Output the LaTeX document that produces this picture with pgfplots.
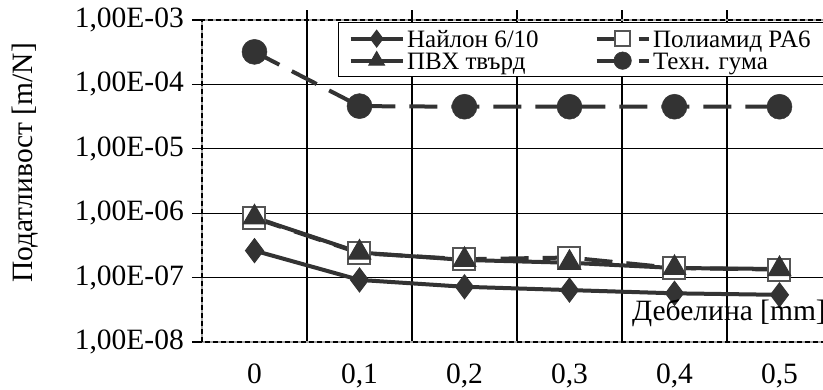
\documentclass[border=0pt]{standalone}
\usepackage{fontspec}
\setmainfont{Liberation Serif}
\usepackage{pgfplots}
\pgfplotsset{compat=1.18}
\definecolor{ser}{HTML}{333333}
\definecolor{sqe}{HTML}{555555}
\begin{document}
\begin{tikzpicture}[x=1pt,y=1pt]
\useasboundingbox (0,0) rectangle (823,390);
\clip (0,0) rectangle (823,390);
\begin{axis}[
  at={(202pt,48pt)}, anchor=south west,
  scale only axis, width=630pt, height=322pt,
  xmin=-0.5, xmax=5.5,
  ymode=log, ymin=1e-8, ymax=1e-3,
  xtick={0.5,1.5,2.5,3.5,4.5,5.5},
  xticklabels={0,{0,1},{0,2},{0,3},{0,4},{0,5}},
  xtick pos=right, xticklabel pos=left,
  ytick={1e-7,1e-6,1e-5,1e-4},
  yticklabels={{1,00E-07},{1,00E-06},{1,00E-05},{1,00E-04}},
  extra y ticks={1e-8,1e-3},
  extra y tick labels={{1,00E-08},{1,00E-03}},
  extra y tick style={grid=none},
  ytick pos=left,
  yminorticks=false,
  tick align=outside,
  major tick length=10pt,
  tick style={black, line width=1.3pt},
  xmajorgrids, ymajorgrids,
  major grid style={black, line width=1.3pt},
  axis line style={draw=black!35, line width=1.5pt, postaction={draw=black, dash pattern=on 5pt off 3pt}},
  tick label style={font=\fontsize{29.5}{35}\selectfont},
  xticklabel style={anchor=north, inner sep=0pt, yshift=-12pt, xshift=-52.5pt},
  yticklabel style={anchor=east, inner sep=0pt, xshift=-8pt},
  label style={font=\fontsize{29.5}{35}\selectfont},
  xlabel={Дебелина [mm]},
  xlabel style={at={(axis description cs:0.6825,0.0683)}, anchor=base west, inner sep=0pt},
  ylabel={Податливост [m/N]},
  ylabel style={at={(axis description cs:-0.281,0.556)}, anchor=center},
  legend columns=2,
  legend cell align=left,
  legend style={at={(axis description cs:0.2159,0.9938)}, anchor=north west,
    draw=black, line width=1.3pt, fill=white,
    font=\fontsize{25}{22}\selectfont,
    inner xsep=10pt, inner ysep=5pt, row sep=0pt, column sep=0pt,
    nodes={font=\fontsize{25}{22}\selectfont, text height=20pt, text depth=2pt, inner ysep=0pt, inner xsep=2.5pt}},
  legend image code/.code={\draw[mark repeat=2, mark phase=2, every mark/.append style={scale=0.7}, #1] plot coordinates {(0pt,0pt)(26pt,0pt)(52pt,0pt)};},
]
\addplot[color=ser, line width=4pt, mark=diamond*, mark size=12pt, mark options={fill=ser, draw=ser, line width=1pt, solid}]
  coordinates {(0,2.62e-7)(1,9.2e-8)(2,7.2e-8)(3,6.4e-8)(4,5.7e-8)(5,5.4e-8)};
\addlegendentry{\makebox[185pt][l]{Найлон 6/10}}
\addplot[color=ser, line width=4pt, dash pattern=on 28pt off 14pt, mark=square*, mark size=11pt, mark options={fill=white, draw=sqe, line width=2pt, solid}]
  coordinates {(0,8.4e-7)(1,2.4e-7)(2,1.93e-7)(3,2.05e-7)(4,1.41e-7)(5,1.33e-7)};
\addlegendentry{Полиамид PA6}
\addplot[color=ser, line width=4pt, mark=triangle*, mark size=13pt, mark options={fill=ser, draw=ser, line width=1pt, solid}]
  coordinates {(0,8.6e-7)(1,2.45e-7)(2,1.88e-7)(3,1.7e-7)(4,1.41e-7)(5,1.36e-7)};
\addlegendentry{\makebox[185pt][l]{ПВХ твърд}}
\addplot[color=ser, line width=4pt, dash pattern=on 28pt off 14pt, mark=*, mark size=12.5pt, mark options={fill=ser, draw=ser, line width=0.5pt, solid}]
  coordinates {(0,3.2e-4)(1,4.6e-5)(2,4.5e-5)(3,4.5e-5)(4,4.5e-5)(5,4.5e-5)};
\addlegendentry{Техн. гума}
\end{axis}
\end{tikzpicture}
\end{document}
